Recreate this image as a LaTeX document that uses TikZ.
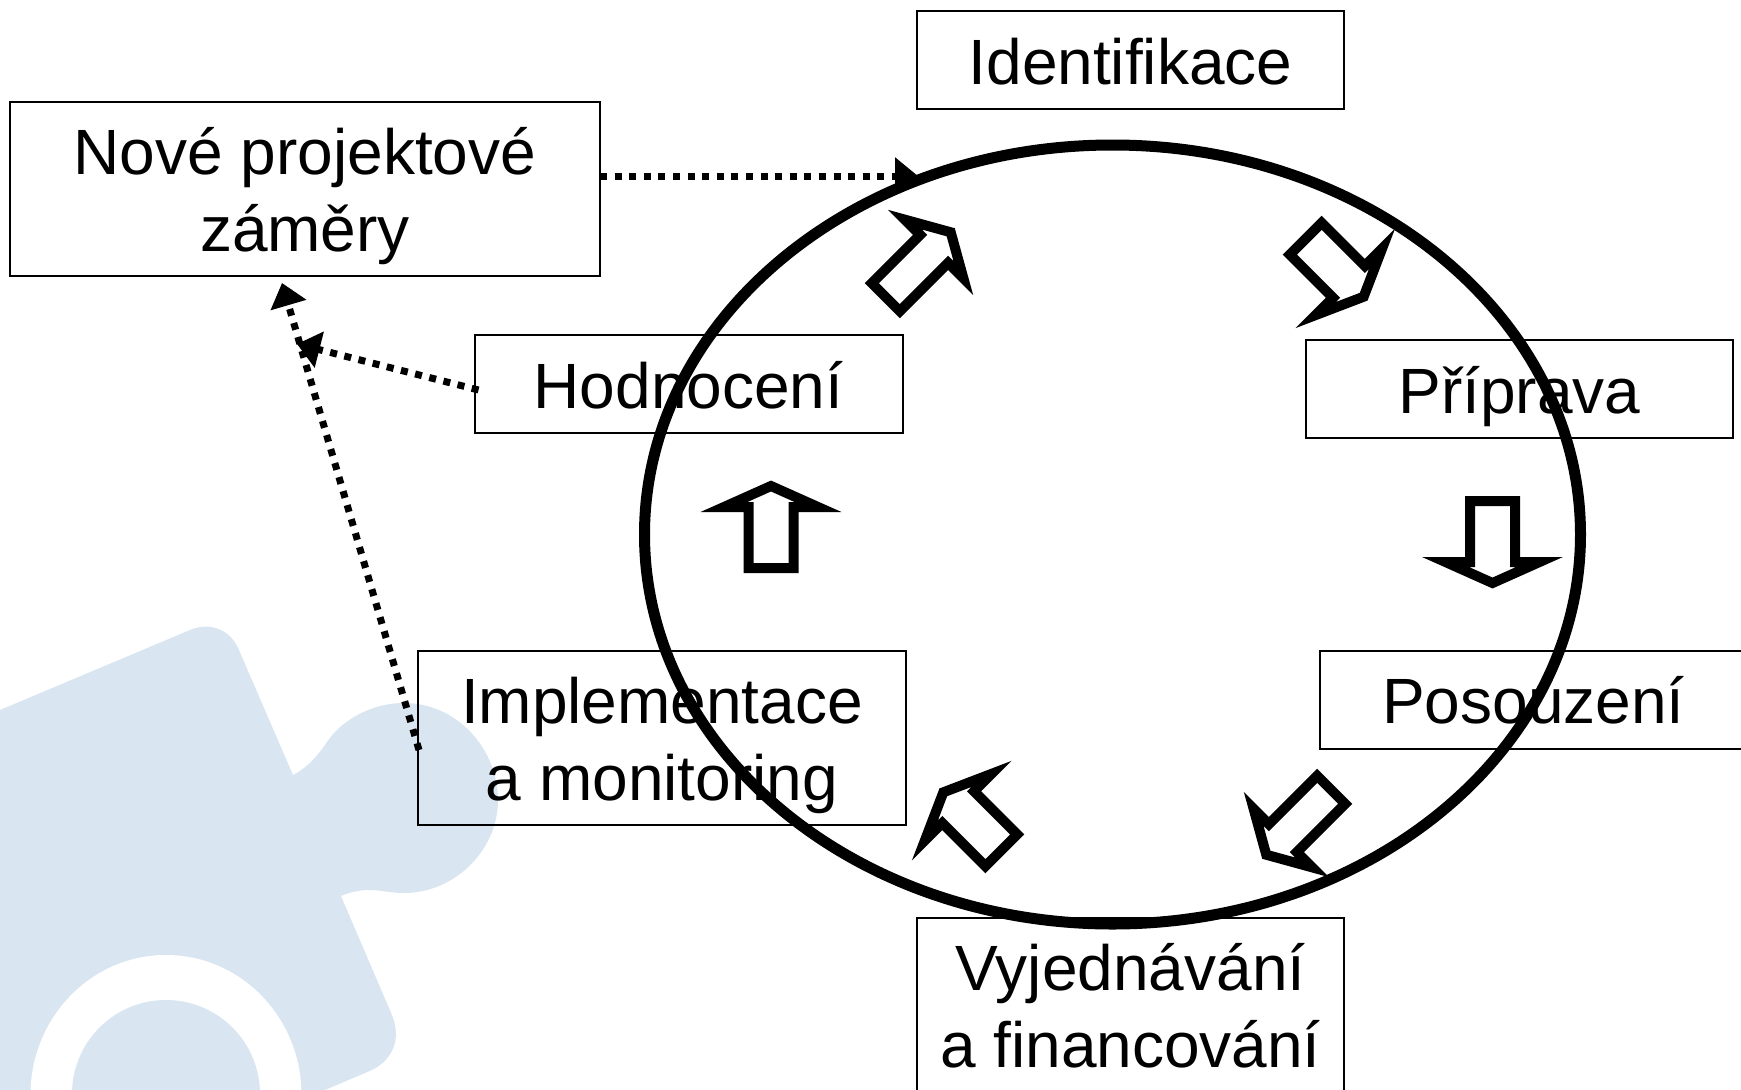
\documentclass[tikz,border=0pt]{standalone}
\usepackage{fontspec}
\setmainfont{Liberation Sans}
\usetikzlibrary{arrows.meta}
\definecolor{puzzleblue}{RGB}{217,230,241}
\tikzset{
  labelbox/.style={draw,line width=2pt,inner sep=0pt,outer sep=0pt,align=center,minimum width=427pt,minimum height=98pt,
    font=\fontsize{64}{77.5}\selectfont,text height=48pt,text depth=0pt},
  tallbox/.style={labelbox,minimum height=174pt,text height=125.5pt},
  dotline/.style={line width=7pt,dash pattern=on 7pt off 7.6pt,-{Triangle[width=36pt,length=23pt]}},
  blockarrow/.style={line width=10pt,miter limit=12,line join=miter}
}
\begin{document}
\begin{tikzpicture}[x=1pt,y=-1pt]
\clip (0,0) rectangle (1741,1090);
% puzzle piece behind everything
\fill [puzzleblue] (0,710) -- (190,630) .. controls (208,622) and (230,628) .. (239,650) -- (293,775) .. controls (305,769) and (316,758) .. (325,745) .. controls (340,720) and (372,703) .. (404,703) .. controls (458,703) and (498,750) .. (498,800) .. controls (498,850) and (455,893) .. (404,893) .. controls (390,893) and (380,890) .. (370,890) .. controls (360,890) and (350,892) .. (341,896) -- (392,1015) .. controls (402,1040) and (392,1060) .. (372,1070) -- (325,1090) -- (0,1090) -- cycle;
\fill [white] (166,1095) ellipse (135.5 and 140);
\fill [puzzleblue] (166,1094) ellipse (94 and 94);
% boxes
\node [labelbox] (identifikace) at (1130.5,60) {Identifikace};
\node [tallbox,minimum width=590pt] (zamery) at (305,189) {Nové projektové\\záměry};
\node [labelbox,minimum width=428pt] (hodnoceni) at (688.5,384) {Hodnocení};
\node [labelbox] (priprava) at (1519.5,389) {Příprava};
\node [labelbox] (posouzeni) at (1533.5,699.5) {Posouzení};
\node [tallbox,minimum width=488pt] (implementace) at (662,738) {Implementace\\a monitoring};
\node [tallbox] (vyjednavani) at (1130.5,1005) {Vyjednávání\\a financování};
% cycle
\draw [line width=11pt] (1112.5,534.5) ellipse (468 and 389.5);
\foreach \px/\py/\ang/\fx/\fy in {885/298/-45/0.88/1.12,1305/238/-135/1/1,1492.5/500/180/1/1,1332/789/135/0.88/1.12,1002/851/45/1/1,771/569/0/1/1}
  \draw [blockarrow,shift={(\px,\py)},rotate=\ang,xscale=\fx,yscale=\fy] (-22.5,-1) -- (-22.5,-62) -- (-47,-62) -- (0,-83) -- (47,-62) -- (22.5,-62) -- (22.5,-1) -- cycle;
% dotted connectors
\coordinate (cycletip) at (918,176);
\coordinate (zamerytip) at (282,283);
\coordinate (sidetip) at (297,344);
\draw [dotline] ([yshift=13pt]zamery.east) -- (cycletip);
\draw [dotline] ([xshift=4pt,yshift=-6pt]hodnoceni.west) -- (sidetip);
\draw [dotline] ([xshift=1pt,yshift=-12pt]implementace.west) -- (zamerytip);
\end{tikzpicture}
\end{document}
